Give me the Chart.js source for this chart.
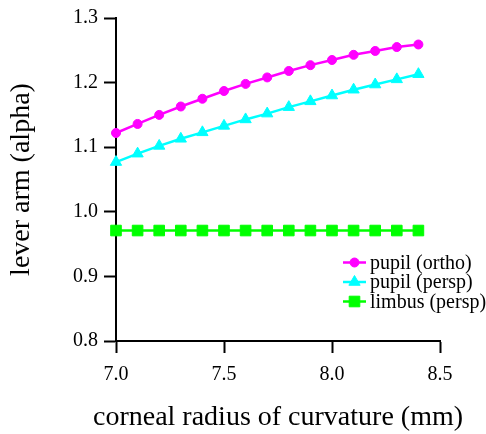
<!DOCTYPE html>
<html>
<head>
<meta charset="utf-8">
<script src="https://cdn.jsdelivr.net/npm/chart.js@4"></script>
<style>
    html, body { margin: 0; padding: 0; background: #fff; }
    canvas { display: block; }
</style>
</head>
<body>
<canvas id="chart" width="486" height="434"></canvas>
<script>
const FONT = '"Liberation Serif", "Times New Roman", serif';

const radius     = [7.0, 7.1, 7.2, 7.3, 7.4, 7.5, 7.6, 7.7, 7.8, 7.9, 8.0, 8.1, 8.2, 8.3, 8.4];
const pupilOrtho = [1.122, 1.136, 1.150, 1.163, 1.175, 1.187, 1.198, 1.208, 1.218, 1.227, 1.235, 1.243, 1.249, 1.255, 1.259];
const pupilPersp = [1.077, 1.090, 1.102, 1.113, 1.123, 1.133, 1.143, 1.152, 1.162, 1.171, 1.180, 1.189, 1.197, 1.205, 1.213];
const limbusPersp = [0.971, 0.971, 0.971, 0.971, 0.971, 0.971, 0.971, 0.971, 0.971, 0.971, 0.971, 0.971, 0.971, 0.971, 0.971];

const xTicks = [7.0, 7.5, 8.0, 8.5];
const yTicks = [0.8, 0.9, 1.0, 1.1, 1.2, 1.3];

const X_TITLE = 'corneal radius of curvature (mm)';
const Y_TITLE = 'lever arm (alpha)';

const series = [
    { label: 'pupil (ortho)',  values: pupilOrtho,  color: '#ff00ff', style: 'circle',   size: 4.5 },
    { label: 'pupil (persp)',  values: pupilPersp,  color: '#00ffff', style: 'triangle', size: 6.5 },
    { label: 'limbus (persp)', values: limbusPersp, color: '#00ff00', style: 'rect',     size: 7.5 },
];

// legend drawn inside the plot, lower right
const insideLegend = {
    id: 'insideLegend',
    afterDatasetsDraw(chart) {
        const ctx = chart.ctx;
        const x0 = 343, x1 = 366, tx = 370;
        const rows = [262.5, 282, 301.5];
        ctx.save();
        ctx.font = '20px ' + FONT;
        ctx.textBaseline = 'middle';
        chart.data.datasets.forEach((ds, i) => {
            const y = rows[i];
            ctx.strokeStyle = ds.borderColor;
            ctx.lineWidth = 2.5;
            ctx.beginPath();
            ctx.moveTo(x0, y);
            ctx.lineTo(x1, y);
            ctx.stroke();
            ctx.fillStyle = ds.pointBackgroundColor;
            ctx.strokeStyle = ds.pointBorderColor;
            ctx.lineWidth = 1;
            Chart.helpers.drawPoint(ctx, {
                pointStyle: ds.pointStyle,
                radius: ds.pointRadius,
                rotation: 0,
                borderWidth: 1,
            }, (x0 + x1) / 2, y);
            ctx.fillStyle = '#000';
            ctx.fillText(ds.label, tx, y + 1);
        });
        ctx.restore();
    },
};

// x title without chart.js squeezing it to the axis width
const xTitle = {
    id: 'xTitle',
    afterDraw(chart) {
        const ctx = chart.ctx;
        const area = chart.chartArea;
        ctx.save();
        ctx.font = '28px ' + FONT;
        ctx.fillStyle = '#000';
        ctx.textAlign = 'center';
        ctx.textBaseline = 'middle';
        ctx.fillText(X_TITLE, (area.left + area.right) / 2, 418);
        ctx.restore();
    },
};

new Chart(document.getElementById('chart'), {
    type: 'line',
    data: {
        datasets: series.map(s => ({
            label:                s.label,
            data:                 radius.map((r, i) => ({ x: r, y: s.values[i] })),
            borderColor:          s.color,
            backgroundColor:      s.color,
            pointBackgroundColor: s.color,
            pointBorderColor:     s.color,
            borderWidth:          2.5,
            pointStyle:           s.style,
            pointRadius:          s.size,
            pointBorderWidth:     1,
            tension:              0,
            clip:                 false,
        })),
    },
    options: {
        responsive: false,
        animation:  false,
        layout: { padding: { top: 16, right: 46, left: 0, bottom: 0 } },
        plugins: {
            legend:  { display: false },
            tooltip: { enabled: false },
        },
        scales: {
            x: {
                type: 'linear',
                min: 7.0,
                max: 8.5,
                afterFit: s => { s.height = 93; },
                afterBuildTicks: s => { s.ticks = xTicks.map(v => ({ value: v })); },
                grid:   { drawOnChartArea: false, drawTicks: true, tickLength: 12, tickWidth: 2, tickColor: '#000' },
                border: { display: true, color: '#000', width: 2 },
                ticks: {
                    color: '#000',
                    padding: 10,
                    font: { family: FONT, size: 20 },
                    callback: v => v.toFixed(1),
                },
                title: { display: false },
            },
            y: {
                min: 0.8,
                max: 1.3,
                afterFit: s => { s.width = 116; },
                afterBuildTicks: s => { s.ticks = yTicks.map(v => ({ value: v })); },
                grid:   { drawOnChartArea: false, drawTicks: true, tickLength: 12, tickWidth: 2, tickColor: '#000' },
                border: { display: true, color: '#000', width: 2 },
                ticks: {
                    color: '#000',
                    padding: 6,
                    font: { family: FONT, size: 20 },
                    callback: v => v.toFixed(1),
                },
                title: {
                    display: true,
                    text: Y_TITLE,
                    color: '#000',
                    font: { family: FONT, size: 28 },
                    padding: { top: 5, bottom: 0 },
                },
            },
        },
    },
    plugins: [insideLegend, xTitle],
});
</script>
</body>
</html>
